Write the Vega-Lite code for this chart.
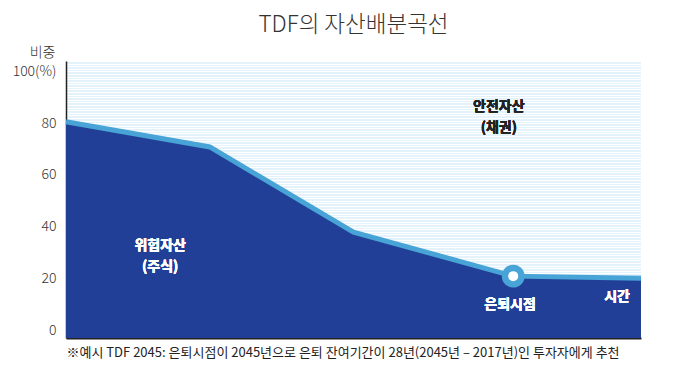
{
  "$schema": "https://vega.github.io/schema/vega-lite/v6.json",
  "autosize": "none",
  "width": 575,
  "height": 277,
  "padding": {"left": 66, "top": 61, "right": 36, "bottom": 43},
  "background": "white",
  "config": {
    "view": {"fill": "#e4f2fb", "stroke": null},
    "font": "Noto Sans CJK KR"
  },
  "title": {
    "text": "TDF의 자산배분곡선",
    "font": "Noto Sans CJK KR",
    "fontSize": 22.5,
    "fontWeight": 300,
    "color": "#333333",
    "anchor": "middle",
    "dx": 0,
    "offset": 9
  },
  "data": {
    "values": [
      {"year": 2017, "share": 80.5},
      {"year": 2026, "share": 70.8},
      {"year": 2035, "share": 37.9},
      {"year": 2045, "share": 20.9},
      {"year": 2053, "share": 20.1}
    ]
  },
  "layer": [
    {
      "mark": {"type": "area", "color": "#213f96", "clip": true},
      "encoding": {
        "x": {
          "field": "year",
          "type": "quantitative",
          "scale": {"domain": [2017, 2053], "nice": false, "zero": false},
          "axis": {
            "labels": false,
            "ticks": false,
            "grid": false,
            "domainColor": "#222222",
            "domainWidth": 2,
            "title": "※예시 TDF 2045: 은퇴시점이 2045년으로 은퇴 잔여기간이 28년(2045년 – 2017년)인 투자자에게 추천",
            "titleFont": "Noto Sans CJK KR",
            "titleFontSize": 13,
            "titleFontWeight": 400,
            "titleColor": "#222222",
            "titleAnchor": "start",
            "titlePadding": 8
          }
        },
        "y": {
          "field": "share",
          "type": "quantitative",
          "scale": {"domain": [-3, 104], "nice": false, "zero": false},
          "axis": {
            "tickCount": 110,
            "labelOverlap": false,
            "labelExpr": "datum.value == 100 ? '100(%)' : ((datum.value % 20 == 0 && datum.value >= 0) ? datum.label : '')",
            "ticks": false,
            "grid": true,
            "gridColor": "white",
            "gridWidth": 1.2,
            "domainColor": "#222222",
            "domainWidth": 1.5,
            "labelFont": "Noto Sans CJK KR",
            "labelFontSize": 14,
            "labelFontWeight": 300,
            "labelColor": "#333333",
            "labelPadding": 10,
            "title": "비중",
            "titleAngle": 0,
            "titleAlign": "right",
            "titleBaseline": "middle",
            "titleX": -11,
            "titleY": -9,
            "titleFont": "Noto Sans CJK KR",
            "titleFontSize": 14,
            "titleFontWeight": 300,
            "titleColor": "#333333"
          }
        },
        "y2": {"datum": -3}
      }
    },
    {
      "mark": {"type": "line", "color": "#48a4d6", "strokeWidth": 5},
      "encoding": {
        "x": {"field": "year", "type": "quantitative"},
        "y": {"field": "share", "type": "quantitative"}
      }
    },
    {
      "transform": [{"filter": "datum.year == 2045"}],
      "mark": {"type": "point", "filled": true, "color": "#48a4d6", "size": 520, "opacity": 1},
      "encoding": {
        "x": {"field": "year", "type": "quantitative"},
        "y": {"field": "share", "type": "quantitative"}
      }
    },
    {
      "transform": [{"filter": "datum.year == 2045"}],
      "mark": {"type": "point", "filled": true, "color": "white", "size": 100, "opacity": 1},
      "encoding": {
        "x": {"field": "year", "type": "quantitative"},
        "y": {"field": "share", "type": "quantitative"}
      }
    },
    {
      "mark": {"type": "text", "text": ["위험자산", "(주식)"], "lineHeight": 21, "color": "white", "fontSize": 14, "fontWeight": 700, "font": "Noto Sans CJK KR", "baseline": "middle"},
      "encoding": {
        "x": {"datum": 2022.9},
        "y": {"datum": 32.7}
      }
    },
    {
      "mark": {"type": "text", "text": ["안전자산", "(채권)"], "lineHeight": 21, "color": "#222222", "fontSize": 14, "fontWeight": 700, "font": "Noto Sans CJK KR", "baseline": "middle"},
      "encoding": {
        "x": {"datum": 2044.1},
        "y": {"datum": 86.1}
      }
    },
    {
      "mark": {"type": "text", "text": "은퇴시점", "color": "white", "fontSize": 14, "fontWeight": 700, "font": "Noto Sans CJK KR", "baseline": "middle"},
      "encoding": {
        "x": {"datum": 2044.8},
        "y": {"datum": 9.6}
      }
    },
    {
      "mark": {"type": "text", "text": "시간", "color": "white", "fontSize": 14, "fontWeight": 700, "font": "Noto Sans CJK KR", "baseline": "middle"},
      "encoding": {
        "x": {"datum": 2051.5},
        "y": {"datum": 12.8}
      }
    }
  ]
}
